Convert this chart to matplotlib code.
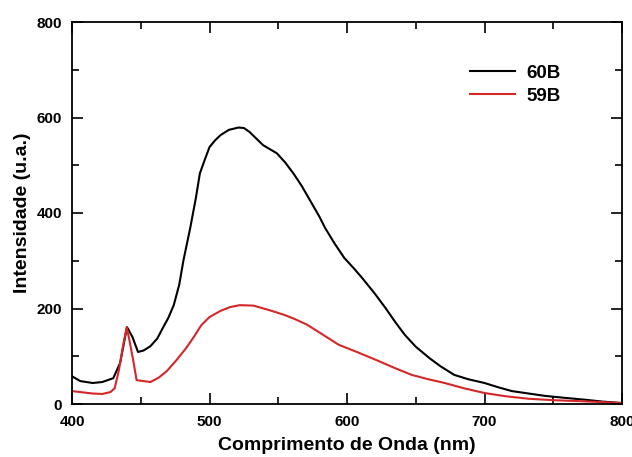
import matplotlib.pyplot as plt
from matplotlib.ticker import MultipleLocator

plt.rcParams['font.family'] = ['Liberation Sans', 'DejaVu Sans']
plt.rcParams['font.weight'] = 'bold'

# espectro 60B
wl_60B = [400, 406, 415, 422, 430, 435, 440, 444, 448, 452, 457, 462, 466, 470,
          474, 478, 481, 486, 490, 493, 497, 500, 504, 508, 514, 521, 525, 529,
          534, 539, 549, 555, 561, 567, 573, 580, 584, 591, 598, 605, 611, 620,
          628, 635, 642, 650, 660, 668, 678, 688, 700, 710, 720, 732, 744, 758,
          773, 786, 800]
int_60B = [58, 48, 44, 46, 54, 86, 161, 140, 109, 112, 121, 137, 159, 180,
           207, 250, 300, 369, 430, 483, 515, 538, 552, 563, 574, 579, 578, 570,
           556, 542, 525, 506, 483, 457, 427, 392, 369, 336, 306, 284, 264, 232,
           201, 172, 145, 120, 96, 79, 61, 52, 44, 35, 27, 22, 17, 13, 9, 5, 2]

# espectro 59B
wl_59B = [400, 406, 415, 422, 428, 431, 434, 437, 439.8, 442, 444.6, 447, 452,
          457, 463, 469, 476, 483, 489, 494, 500, 508, 515, 522, 532, 543, 554,
          562, 571, 582, 594, 608, 623, 635, 647, 659, 671, 685, 700, 716, 732,
          750, 769, 785, 800]
int_59B = [27, 25, 22, 21, 25, 33, 69, 120, 161, 130, 90, 50, 48, 46, 55, 69,
           92, 117, 142, 165, 182, 195, 203, 207, 206, 197, 187, 178, 166, 146,
           124, 108, 90, 75, 61, 52, 44, 33, 23, 16, 11, 8, 6, 4, 2]

fig, ax = plt.subplots(figsize=(6.32, 4.57), dpi=100)
fig.subplots_adjust(left=72/632, right=622/632, top=1-22/457, bottom=1-404/457)

ax.plot(wl_60B, int_60B, color='black', lw=1.5, label='60B')
ax.plot(wl_59B, int_59B, color='#d62728', lw=1.5, label='59B')

ax.set_xlim(400, 800)
ax.set_ylim(0, 800)
ax.xaxis.set_major_locator(MultipleLocator(100))
ax.xaxis.set_minor_locator(MultipleLocator(50))
ax.yaxis.set_major_locator(MultipleLocator(200))
ax.yaxis.set_minor_locator(MultipleLocator(100))
ax.tick_params(which='both', direction='in', top=True, right=True, width=1.2,
               labelsize=11)
ax.tick_params(which='major', length=8)
ax.tick_params(which='minor', length=5)
ax.tick_params(axis='x', pad=8)
ax.tick_params(axis='y', pad=7)
for s in ax.spines.values():
    s.set_linewidth(1.3)

ax.set_xlabel('Comprimento de Onda (nm)', fontsize=14, fontweight='bold',
              labelpad=6)
ax.set_ylabel('Intensidade (u.a.)', fontsize=14, fontweight='bold', labelpad=4)

ax.legend(loc='upper left', bbox_to_anchor=(0.724, 0.888), frameon=False,
          prop={'size': 13.5, 'weight': 'bold'}, handlelength=2.4,
          handletextpad=0.6, labelspacing=0.3, borderaxespad=0, borderpad=0)

fig.savefig('out.png', dpi=100)
